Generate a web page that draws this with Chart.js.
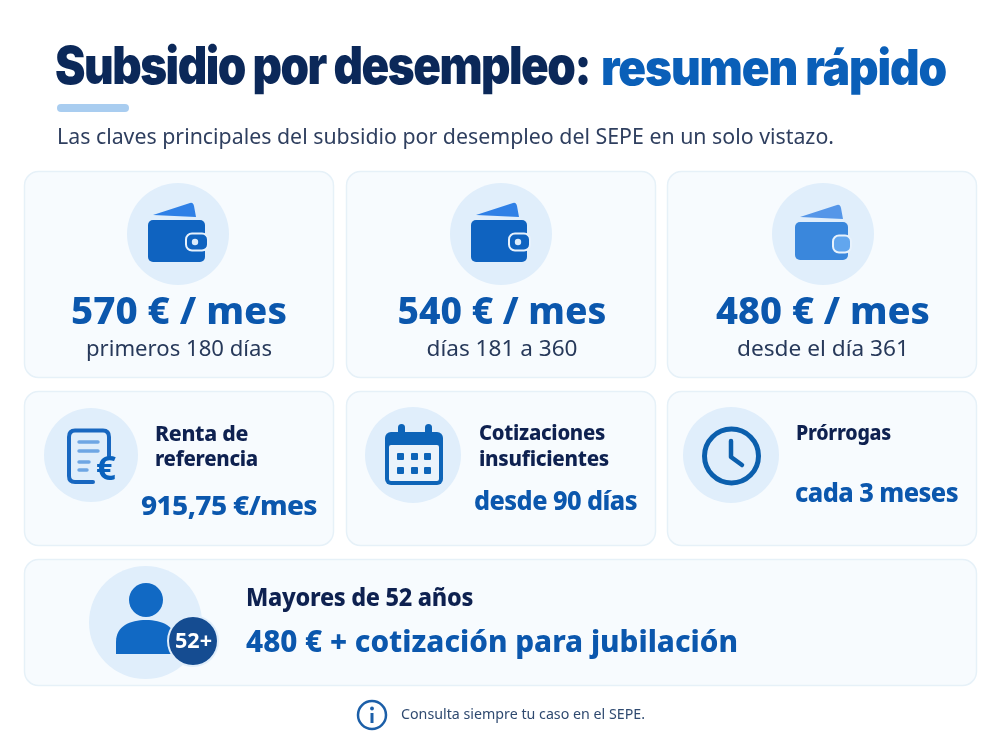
<!DOCTYPE html>
<html lang="es">
<head>
<meta charset="utf-8">
<title>Subsidio por desempleo</title>
<script src="https://cdn.jsdelivr.net/npm/chart.js@4"></script>
<style>
html,body{margin:0;padding:0;background:#fff}
canvas{display:block}
</style>
</head>
<body>
<canvas id="c" width="1000" height="750"></canvas>
<script>
const titleDark = "Subsidio por desempleo:";
const titleBlue = "resumen rápido";
const subtitle = "Las claves principales del subsidio por desempleo del SEPE en un solo vistazo.";
const periods = ["primeros 180 días", "días 181 a 360", "desde el día 361"];
const monthlyAmounts = [570, 540, 480];
const unit = "€ / mes";
const infoHeads = [["Renta de", "referencia"], ["Cotizaciones", "insuficientes"], ["Prórrogas"]];
const infoValues = ["915,75 €/mes", "desde 90 días", "cada 3 meses"];
const seniorHead = "Mayores de 52 años";
const seniorValue = "480 € + cotización para jubilación";
const seniorBadge = "52+";
const footnote = "Consulta siempre tu caso en el SEPE.";

const NAVY = "#0b2859", BLUE = "#0a5fb8", AMT = "#0b57ad", INK = "#27395a", HEAD = "#0e2150",
      CIRC = "#e0eefb", CARD = "#f7fbfe", EDGE = "#e6f1f8", BODY = "Noto Sans";

function txt(ctx, s, x, y, font, color, width, align, spacing) {
  ctx.save();
  ctx.font = font; ctx.fillStyle = color; ctx.textBaseline = "alphabetic"; ctx.textAlign = "left";
  ctx.letterSpacing = (spacing || 0) + "px";
  const w = ctx.measureText(s).width;
  const target = width || w;
  const left = align === "center" ? x - target / 2 : x;
  ctx.translate(left, y);
  ctx.scale(target / w, 1);
  ctx.fillText(s, 0, 0);
  ctx.restore();
}
function rr(ctx, x, y, w, h, r, fill, stroke, lw) {
  ctx.beginPath(); ctx.roundRect(x, y, w, h, r);
  if (fill) { ctx.fillStyle = fill; ctx.fill(); }
  if (stroke) { ctx.strokeStyle = stroke; ctx.lineWidth = lw || 1; ctx.stroke(); }
}
function disc(ctx, x, y, r, fill) {
  ctx.beginPath(); ctx.arc(x, y, r, 0, Math.PI * 2); ctx.fillStyle = fill; ctx.fill();
}
function wallet(ctx, x, y, w, h, body, tab, clasp, hole) {
  ctx.fillStyle = tab;
  ctx.beginPath();
  ctx.moveTo(x + 5, y - 5); ctx.lineTo(x + 42, y - 17);
  ctx.quadraticCurveTo(x + 45, y - 18, x + 46, y - 14);
  ctx.lineTo(x + 48, y - 3); ctx.closePath(); ctx.fill();
  rr(ctx, x, y, w, h, 5, body);
  rr(ctx, x + 38, y + 13.5, w - 35, 17, 6, clasp, "#e8f2fc", 2);
  if (hole) disc(ctx, x + 47, y + 22, 3.2, hole);
}
function doc(ctx) {
  ctx.save(); ctx.lineCap = "round"; ctx.lineJoin = "round";
  ctx.strokeStyle = "#1867c0"; ctx.lineWidth = 4;
  ctx.beginPath();
  ctx.moveTo(109, 456); ctx.lineTo(109, 437);
  ctx.quadraticCurveTo(109, 430.5, 103, 430.5); ctx.lineTo(75, 430.5);
  ctx.quadraticCurveTo(69, 430.5, 69, 437); ctx.lineTo(69, 476);
  ctx.quadraticCurveTo(69, 482, 75, 482); ctx.lineTo(93, 482);
  ctx.stroke();
  ctx.strokeStyle = "#6ea6e4"; ctx.lineWidth = 3.4;
  [[79, 442, 98], [79, 451, 98], [79, 462, 89], [79, 470, 87]].forEach(l => {
    ctx.beginPath(); ctx.moveTo(l[0], l[1]); ctx.lineTo(l[2], l[1]); ctx.stroke();
  });
  ctx.restore();
  txt(ctx, "€", 96, 480, "700 34px '" + BODY + "'", "#0a62bd", 20);
}
function calendar(ctx) {
  const c = "#0d64b8";
  rr(ctx, 385, 432, 58, 53, 6, c);
  rr(ctx, 389, 445, 50, 36, 2, "#eaf3fb");
  rr(ctx, 398, 424, 7, 14, 3.5, c);
  rr(ctx, 425, 424, 7, 14, 3.5, c);
  [397, 411, 424].forEach(x => [453, 467].forEach(y => rr(ctx, x, y, 7, 7, 1, c)));
}
function clock(ctx) {
  ctx.save(); ctx.strokeStyle = "#0b5fad"; ctx.lineCap = "round"; ctx.lineJoin = "round";
  ctx.lineWidth = 5; ctx.beginPath(); ctx.arc(731.5, 456, 27, 0, Math.PI * 2); ctx.stroke();
  ctx.lineWidth = 4.5; ctx.beginPath(); ctx.moveTo(731, 441); ctx.lineTo(731, 457); ctx.lineTo(742, 465); ctx.stroke();
  ctx.restore();
}
function person(ctx) {
  const c = "#1169c4";
  disc(ctx, 146, 600, 17, c);
  ctx.fillStyle = c; ctx.beginPath();
  ctx.moveTo(116, 654); ctx.lineTo(116, 642);
  ctx.bezierCurveTo(116, 626, 130, 620, 146, 620);
  ctx.bezierCurveTo(162, 620, 176, 626, 176, 642);
  ctx.lineTo(176, 654); ctx.closePath(); ctx.fill();
  disc(ctx, 193, 641, 26, CIRC);
  disc(ctx, 193, 641, 24, "#154c91");
  txt(ctx, seniorBadge, 193.5, 648, "700 21px '" + BODY + "'", "#ffffff", 37, "center");
}
function infoIcon(ctx) {
  ctx.save(); ctx.strokeStyle = "#1c5fa8"; ctx.lineWidth = 2.5;
  ctx.beginPath(); ctx.arc(372, 715, 14, 0, Math.PI * 2); ctx.stroke();
  disc(ctx, 372, 708.5, 1.9, "#1c5fa8");
  ctx.lineWidth = 3; ctx.beginPath(); ctx.moveTo(372, 713); ctx.lineTo(372, 723); ctx.stroke();
  ctx.restore();
}

const infographic = {
  id: "infographic",
  afterDraw(chart) {
    const ctx = chart.ctx;
    const rows = [[24, 171, 309, 206], [346, 171, 309, 206], [667, 171, 309, 206],
                  [24, 391, 309, 154], [346, 391, 309, 154], [667, 391, 309, 154],
                  [24, 559, 952, 126]];
    rows.forEach(r => rr(ctx, r[0] + .5, r[1] + .5, r[2], r[3], 14, CARD, EDGE, 1.5));

    txt(ctx, titleDark, 55, 84, "900 52px Inter", NAVY, 535, "left", -1.7);
    txt(ctx, titleBlue, 601, 85, "900 49px Inter", BLUE, 345, "left", -1.2);
    rr(ctx, 57, 104, 72, 8, 4, "#a9cdf0");
    txt(ctx, subtitle, 57, 144, "400 21px '" + BODY + "'", "#2f3f5f", 777);

    const cx = [179, 502, 823], tw = [216, 209, 214], sw = [186, 151, 172];
    chart.data.labels.forEach((lab, i) => {
      disc(ctx, [178, 501, 823][i], 234, 51, CIRC);
      const v = chart.data.datasets[0].data[i] + " " + unit;
      txt(ctx, v, cx[i], 324, "800 37px '" + BODY + "'", AMT, tw[i], "center");
      txt(ctx, lab, cx[i], 356, "400 21px '" + BODY + "'", INK, sw[i], "center");
    });
    wallet(ctx, 148, 220, 57, 42, "#0f63c0", "#2f80e6", "#0f63c0", "#dcecfb");
    wallet(ctx, 471, 220, 56, 42, "#0f63c0", "#2f80e6", "#0f63c0", "#dcecfb");
    wallet(ctx, 795, 222, 53, 38, "#3a87dc", "#5596e8", "#62a6ee", null);

    [[91, 455, 47], [413, 455, 48], [731, 455, 48]].forEach(c => disc(ctx, c[0], c[1], c[2], CIRC));
    doc(ctx); calendar(ctx); clock(ctx);

    const hx = [155, 479, 796], hw = [[93, 103], [126, 130], [95]];
    const hy = [[441, 466], [440, 466], [440]];
    infoHeads.forEach((lines, i) => lines.forEach((s, j) =>
      txt(ctx, s, hx[i], hy[i][j], "800 21px '" + BODY + "'", HEAD, hw[i][j], "left", -0.3)));
    const vx = [141, 474, 795], vw = [176, 163, 163], vy = [515, 510, 502];
    infoValues.forEach((s, i) => txt(ctx, s, vx[i], vy[i], "800 27px '" + BODY + "'", AMT, vw[i], "left", -0.6));

    disc(ctx, 145.5, 622.5, 56.5, CIRC);
    person(ctx);
    txt(ctx, seniorHead, 246, 606, "800 24px '" + BODY + "'", HEAD, 227, "left", -0.3);
    txt(ctx, seniorValue, 246, 652, "800 31px '" + BODY + "'", AMT, 492);

    infoIcon(ctx);
    txt(ctx, footnote, 401, 719, "400 14px '" + BODY + "'", "#2f4a70", 244);
  }
};

new Chart(document.getElementById("c"), {
  type: "bar",
  data: { labels: periods, datasets: [{ label: unit, data: monthlyAmounts, hidden: true }] },
  options: {
    responsive: false, animation: false,
    layout: { padding: 0 },
    plugins: { legend: { display: false }, tooltip: { enabled: false } },
    scales: { x: { display: false }, y: { display: false, beginAtZero: true } }
  },
  plugins: [infographic]
});
</script>
</body>
</html>
